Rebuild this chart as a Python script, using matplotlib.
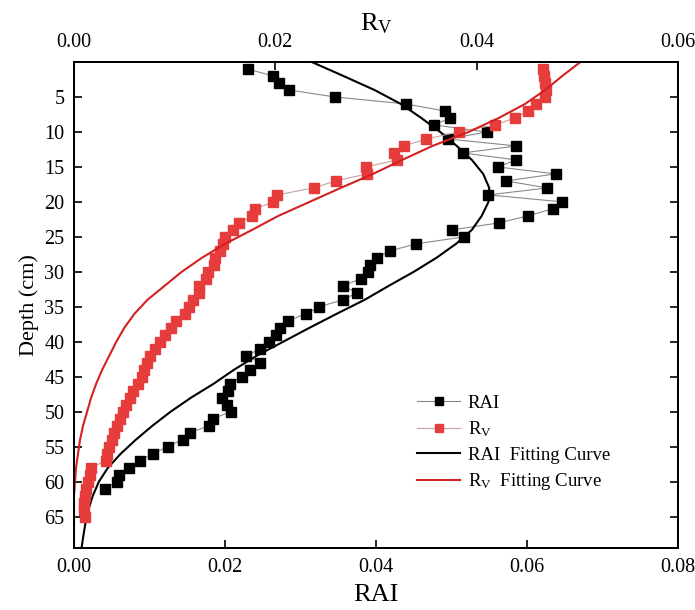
import matplotlib
matplotlib.use("Agg")
import matplotlib.pyplot as plt
import numpy as np

plt.rcParams['font.family'] = 'serif'
plt.rcParams['font.serif'] = ['Liberation Serif', 'DejaVu Serif']
plt.rcParams['mathtext.fontset'] = 'custom'
plt.rcParams['mathtext.rm'] = 'Liberation Serif'
plt.rcParams['mathtext.it'] = 'Liberation Serif:italic'

# measured profiles, depth in cm
depth_rai = np.arange(1, 62)
rai = [0.0230, 0.0264, 0.0272, 0.0285, 0.0346, 0.0440, 0.0491, 0.0498, 0.0477, 0.0547,
       0.0495, 0.0586, 0.0515, 0.0586, 0.0561, 0.0638, 0.0572, 0.0627, 0.0549, 0.0647,
       0.0634, 0.0601, 0.0563, 0.0501, 0.0517, 0.0453, 0.0419, 0.0401, 0.0392, 0.0390,
       0.0380, 0.0356, 0.0375, 0.0356, 0.0325, 0.0307, 0.0284, 0.0273, 0.0267, 0.0258,
       0.0247, 0.0228, 0.0247, 0.0233, 0.0222, 0.0206, 0.0204, 0.0196, 0.0203, 0.0208,
       0.0184, 0.0179, 0.0154, 0.0144, 0.0124, 0.0105, 0.0087, 0.0073, 0.0059, 0.0057,
       0.0041]

depth_rv = np.arange(1, 66)
rv = [0.0466, 0.0467, 0.0468, 0.0469, 0.0468, 0.0459, 0.0451, 0.0438, 0.0418, 0.0382,
      0.0350, 0.0328, 0.0318, 0.0321, 0.0290, 0.0291, 0.0260, 0.0238, 0.0202, 0.0198,
      0.0180, 0.0177, 0.0164, 0.0158, 0.0150, 0.0148, 0.0145, 0.0140, 0.0139, 0.0133,
      0.0131, 0.0124, 0.0124, 0.0118, 0.0114, 0.0110, 0.0101, 0.0096, 0.0090, 0.0085,
      0.0080, 0.0075, 0.0073, 0.0070, 0.0068, 0.0064, 0.0059, 0.0056, 0.0052, 0.0049,
      0.0046, 0.0043, 0.0040, 0.0038, 0.0035, 0.0033, 0.0032, 0.0017, 0.0016, 0.0014,
      0.0012, 0.0011, 0.0010, 0.0010, 0.0011]

# fitted curves
depth_fit = [0, 2, 4, 6, 8, 10, 12, 14, 16, 18, 20, 22, 24, 26, 28, 30, 32, 34, 36,
             38, 40, 42, 44, 46, 48, 50, 52, 54, 56, 58, 60, 62, 64, 66, 68, 69.5]
rai_fit = [0.0315, 0.0357, 0.0398, 0.0433, 0.0460, 0.0485, 0.0507, 0.0527, 0.0542,
           0.0550, 0.0549, 0.0540, 0.0527, 0.0506, 0.0480, 0.0450, 0.0417, 0.0385,
           0.0348, 0.0312, 0.0277, 0.0242, 0.0212, 0.0185, 0.0155, 0.0128, 0.0104,
           0.0082, 0.0062, 0.0045, 0.0033, 0.0025, 0.0019, 0.0015, 0.0012, 0.0010]
rv_fit = [0.0503, 0.0485, 0.0468, 0.0448, 0.0422, 0.0392, 0.0356, 0.0326, 0.0297,
          0.0265, 0.0234, 0.0203, 0.0177, 0.0150, 0.0127, 0.0107, 0.0090, 0.0073,
          0.0060, 0.0050, 0.0042, 0.0035, 0.0028, 0.0022, 0.0017, 0.0013, 0.0009,
          0.0006, 0.0004, 0.0002, 0.0001, 0.0, 0.0, 0.0, 0.0, 0.0]

depth_ticks = list(range(5, 70, 5))

fig = plt.figure(figsize=(6.95, 6.10), dpi=100)
ax = fig.add_axes([0.1065, 0.1016, 0.869, 0.7967])
ax2 = ax.twiny()

l1, = ax.plot(rai, depth_rai, color='#8a8a8a', lw=0.8, marker='s', ms=6.5,
              mfc='black', mec='black', label='RAI')
l2, = ax2.plot(rv, depth_rv, color='#c9a0a0', lw=0.8, marker='s', ms=6.5,
               mfc='#e63c3c', mec='#e63c3c', label=r'R$_\mathrm{V}$')
l3, = ax.plot(rai_fit, depth_fit, color='black', lw=1.5, label='RAI  Fitting Curve')
l4, = ax2.plot(rv_fit, depth_fit, color='#d42020', lw=1.5,
               label=r'R$_\mathrm{V}$  Fitting Curve')

ax.set_xlim(0, 0.08)
ax.set_ylim(69.5, 0)
ax2.set_xlim(0, 0.06)

ax.set_xticks([0, 0.02, 0.04, 0.06, 0.08])
ax.set_xticklabels(['0.00', '0.02', '0.04', '0.06', '0.08'])
ax2.set_xticks([0, 0.02, 0.04, 0.06])
ax2.set_xticklabels(['0.00', '0.02', '0.04', '0.06'])
ax.set_yticks(depth_ticks)

ax.tick_params(axis='both', direction='in', length=6, width=1.2, labelsize=14.5,
               right=True, top=False, pad=7)
ax2.tick_params(axis='x', direction='in', length=6, width=1.2, labelsize=14.5, pad=7)

ax.set_xlabel('RAI', fontsize=19, labelpad=5)
ax.set_ylabel('Depth (cm)', fontsize=16, labelpad=4)
ax2.set_xlabel(r'R$_\mathrm{V}$', fontsize=19, labelpad=2)

for a in (ax, ax2):
    for s in a.spines.values():
        s.set_linewidth(1.4)

ax2.legend(handles=[l1, l2, l3, l4], loc='upper left', frameon=False, fontsize=13.5,
           bbox_to_anchor=(0.6, 0.353), bbox_transform=fig.transFigure,
           borderaxespad=0, borderpad=0, handlelength=2.3, handletextpad=0.4,
           labelspacing=0.4, markerscale=0.85)

fig.savefig('out.png', dpi=100)
